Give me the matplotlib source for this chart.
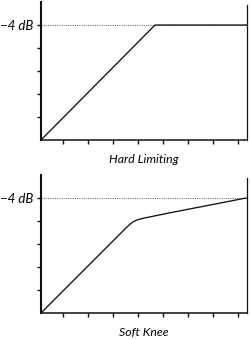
import matplotlib
matplotlib.use("Agg")
import matplotlib.pyplot as plt

# input level (tick units) and output level (tick units, 5 = -4 dB)
hard_in = [0, 4.56, 8.24]
hard_out = [0, 5.0, 5.0]

soft_in = [0, 3.20, 3.43, 3.55, 3.69, 3.85, 4.09, 5.03, 8.20]
soft_out = [0, 3.48, 3.73, 3.85, 3.97, 4.05, 4.12, 4.33, 5.00]

threshold = 5.0
threshold_label = "\u22124 dB"
x_ticks = [0.88 + k for k in range(8)]
y_ticks = [1, 2, 3, 4, 5]

plt.rcParams['font.family'] = ['Lato', 'DejaVu Sans']

fig = plt.figure(figsize=(2.5, 3.39), dpi=100)
ax1 = fig.add_axes([0.164, 0.587, 0.824, 0.407])
ax2 = fig.add_axes([0.164, 0.0767, 0.824, 0.407])

panels = [(ax1, hard_in, hard_out, "Hard Limiting"),
          (ax2, soft_in, soft_out, "Soft Knee")]

for ax, xs, ys, title in panels:
    ax.set_xlim(0, 8.24)
    ax.set_ylim(0, 6)
    ax.axhline(threshold, color='#777777', linestyle=(0, (1, 1)), linewidth=0.8, zorder=1)
    ax.plot(xs, ys, color='#111111', linewidth=0.95, zorder=3, clip_on=False)
    # spines
    ax.spines['top'].set_visible(False)
    ax.spines['left'].set_linewidth(1.5)
    ax.spines['bottom'].set_linewidth(1.1)
    ax.spines['right'].set_linewidth(0.9)
    ax.spines['right'].set_bounds(0, 5.87)
    for s in ax.spines.values():
        s.set_color('#111111')
    ax.set_xticks(x_ticks)
    ax.set_xticklabels([''] * len(x_ticks))
    ax.set_yticks(y_ticks)
    ax.set_yticklabels(['', '', '', '', threshold_label])
    ax.tick_params(axis='both', direction='out', length=2.8, width=1.0, color='#111111')
    ax.tick_params(axis='y', pad=2.5, labelsize=9.5)
    for lbl in ax.get_yticklabels():
        lbl.set_fontstyle('italic')
    ax.set_xlabel(title, fontsize=8.8, fontstyle='italic', labelpad=4)

fig.savefig("out.png", dpi=100)
